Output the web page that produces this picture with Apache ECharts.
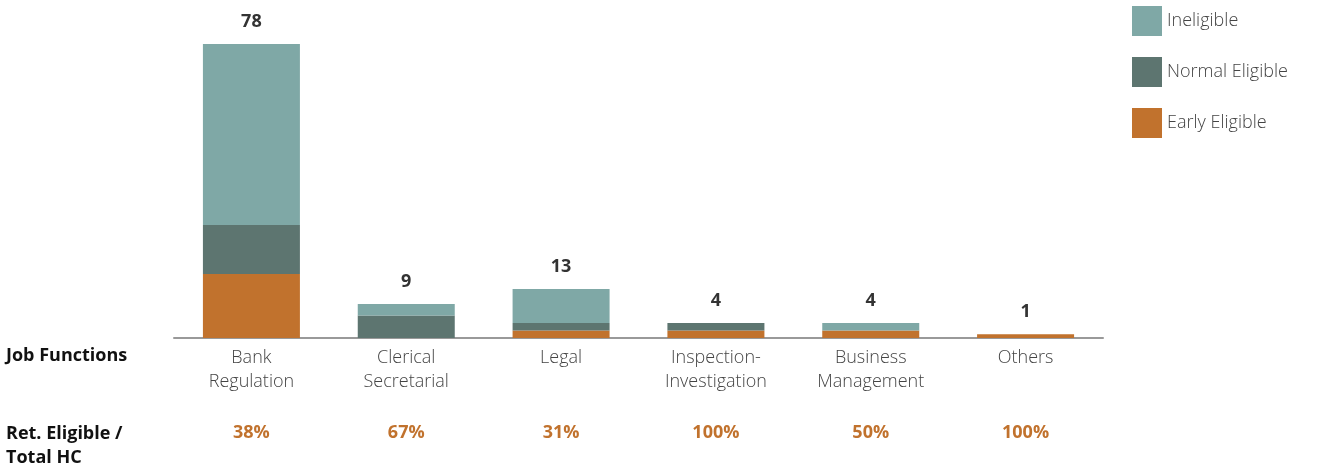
<!DOCTYPE html>
<html>
<head>
<meta charset="utf-8">
<script src="https://cdn.jsdelivr.net/npm/echarts@6/dist/echarts.min.js"></script>
<style>
html,body{margin:0;padding:0;background:#fff;}
#chart{width:1323px;height:469px;}
</style>
</head>
<body>
<div id="chart"></div>
<script>
const categories = ['Bank\nRegulation', 'Clerical\nSecretarial', 'Legal', 'Inspection-\nInvestigation', 'Business\nManagement', 'Others'];
const earlyEligible = [17, 0, 2, 2, 2, 1];
const normalEligible = [13, 6, 2, 2, 0, 0];
const ineligible = [48, 3, 9, 0, 2, 0];
const totals = [78, 9, 13, 4, 4, 1];
const retEligiblePct = ['38%', '67%', '31%', '100%', '50%', '100%'];

const C_INEL = '#7FA8A6', C_NORM = '#5D7570', C_EARLY = '#C1722D';
const FONT = '"Open Sans", Lato, sans-serif';

const chart = echarts.init(document.getElementById('chart'));
chart.setOption({
  animation: false,
  textStyle: { fontFamily: FONT },
  grid: { left: 174, right: 220, top: 44, bottom: 131 },
  legend: {
    orient: 'vertical', left: 1127, top: 1,
    itemWidth: 30, itemHeight: 30, itemGap: 21,
    icon: 'rect',
    data: ['Ineligible', 'Normal Eligible', 'Early Eligible'],
    textStyle: { fontSize: 18, color: '#444', fontWeight: 300, fontFamily: FONT }
  },
  xAxis: [{
    type: 'category', data: categories, position: 'bottom',
    axisLine: { lineStyle: { color: '#999', width: 2 } },
    axisTick: { show: false },
    axisLabel: { fontSize: 18, lineHeight: 24, color: '#444', fontWeight: 300, margin: 8, fontFamily: FONT }
  }, {
    type: 'category', data: retEligiblePct, position: 'bottom', offset: 77,
    axisLine: { show: false }, axisTick: { show: false },
    axisLabel: { fontSize: 18, lineHeight: 24, color: C_EARLY, fontWeight: 'bold', margin: 6, fontFamily: FONT }
  }],
  yAxis: { type: 'value', min: 0, max: 78, show: false },
  series: [
    { name: 'Early Eligible', type: 'bar', stack: 's', data: earlyEligible, barWidth: 97, itemStyle: { color: C_EARLY } },
    { name: 'Normal Eligible', type: 'bar', stack: 's', data: normalEligible, barWidth: 97, itemStyle: { color: C_NORM } },
    { name: 'Ineligible', type: 'bar', stack: 's', data: ineligible, barWidth: 97, itemStyle: { color: C_INEL } },
    { name: 'Total', type: 'bar', stack: 's', data: totals.map(() => 0), barWidth: 97,
      itemStyle: { color: 'transparent' },
      label: { show: true, position: 'top', distance: 13, fontSize: 18, fontWeight: 'bold', color: '#333', fontFamily: FONT,
        formatter: p => totals[p.dataIndex] } }
  ],
  graphic: [
    { type: 'text', left: 6, top: 347, style: { text: 'Job Functions', fontSize: 18, fontWeight: 'bold', fill: '#111', fontFamily: FONT } },
    { type: 'text', left: 6, top: 422, style: { text: 'Ret. Eligible /\nTotal HC', fontSize: 18, lineHeight: 24, fontWeight: 'bold', fill: '#111', fontFamily: FONT } }
  ]
});
</script>
</body>
</html>
